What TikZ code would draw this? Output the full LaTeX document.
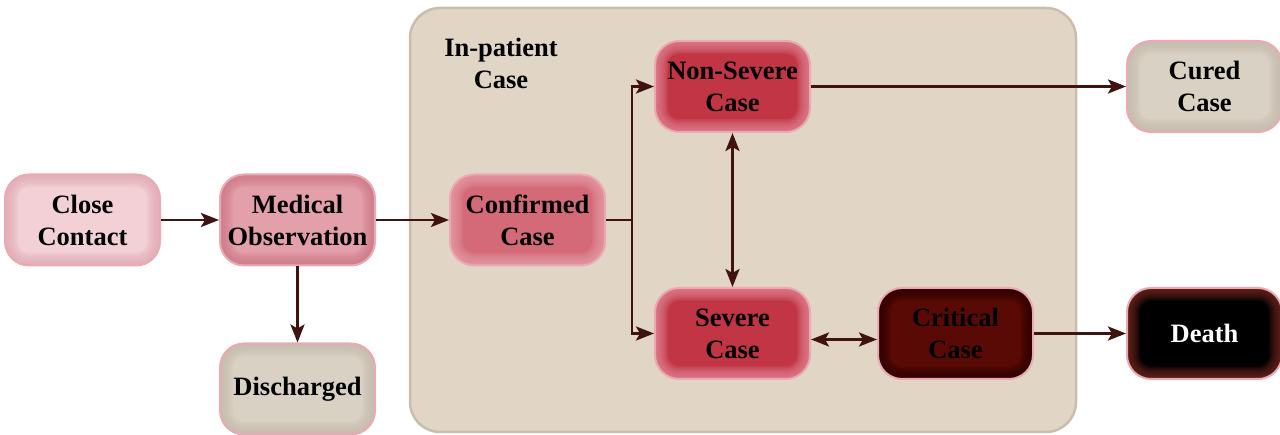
\documentclass[tikz,border=0pt]{standalone}
\usepackage{fontspec}
\setmainfont{Liberation Serif}
\usetikzlibrary{positioning}
\usetikzlibrary{calc}
\usetikzlibrary{arrows.meta}
\definecolor{arrowbrown}{HTML}{3F1410}
\definecolor{edgepink}{HTML}{EBA9B3}
\definecolor{wardfill}{HTML}{E1D6C6}
\definecolor{warddraw}{HTML}{C9BDAC}
\definecolor{contactfill}{HTML}{F2D0D6}
\definecolor{contactglow}{HTML}{E2AAB4}
\definecolor{obsfill}{HTML}{E4A0AA}
\definecolor{obsglow}{HTML}{CD7886}
\definecolor{greyfill}{HTML}{D9D1C4}
\definecolor{greyglow}{HTML}{C6BBAC}
\definecolor{confirmfill}{HTML}{D46A78}
\definecolor{confirmglow}{HTML}{E9A1AB}
\definecolor{casefill}{HTML}{C13545}
\definecolor{caseglow}{HTML}{E58A98}
\definecolor{critfill}{HTML}{5A0A04}
\definecolor{critglow}{HTML}{2A0200}
\definecolor{deathglow}{HTML}{7A2A22}
\tikzset{
  box/.style       = { rectangle, minimum width=155pt, minimum height=91pt, rounded corners=24pt,
                       align=center, inner sep=0pt, font=\fontsize{26.5}{32}\selectfont\bfseries },
  border/.style    = { draw=edgepink, line width=2pt },
  glow/.style      = { path picture={
                         \foreach \w in {2,4,...,26}
                           \draw [#1, line width=\w pt, opacity=0.11, rounded corners=24pt]
                             (path picture bounding box.south west) rectangle (path picture bounding box.north east);
                       } },
}
\tikzset{
  contact/.style   = { box, border, fill=contactfill, glow=contactglow },
  observed/.style  = { box, border, fill=obsfill, glow=obsglow },
  released/.style  = { box, border, fill=greyfill, glow=greyglow },
  confirmed/.style = { box, border, fill=confirmfill, glow=confirmglow },
  illness/.style   = { box, border, fill=casefill, glow=caseglow },
  grave/.style     = { box, border, fill=critfill, glow=critglow },
  fatal/.style     = { box, border, fill=black, glow=deathglow, text=white },
  ward/.style      = { rectangle, minimum width=666pt, minimum height=424pt, rounded corners=30pt,
                       fill=wardfill, draw=warddraw, line width=2.5pt },
  wardlabel/.style = { align=center, font=\fontsize{26.5}{32}\selectfont\bfseries }
}

\begin{document}
\begin{tikzpicture}[
  ,>={Stealth[length=18pt,width=14pt,inset=4pt]},line width=2.8pt,arrowbrown,text=black
]
  \useasboundingbox (0,0) rectangle (1280pt,435pt);

  \node (ward)      [ward] at (743pt,215pt)                {};
  \node (wardtitle) [wardlabel] at (501pt,372pt)           {In-patient\\Case};

  \node (close)     [contact] at (82.5pt,215pt)            {Close\\Contact};
  \node (medobs)    [observed,right=58pt of close]         {Medical\\Observation};
  \node (disch)     [released,below=76pt of medobs]        {Discharged};
  \node (confirm)   [confirmed,right=73pt of medobs]       {Confirmed\\Case};

  \node (nonsevere) [illness] at (732.5pt,348.5pt)         {Non-Severe\\Case};
  \node (severe)    [illness,below=154pt of nonsevere]     {Severe\\Case};
  \node (critical)  [grave,right=66pt of severe]           {Critical\\Case};
  \node (death)     [fatal,right=92pt of critical]         {Death};
  \node (cured)     [released,above=154pt of death]        {Cured\\Case};

  \coordinate (split) at ($(confirm.east)+(26pt,0)$);

  \draw [->]  (close)     -- (medobs);
  \draw [->]  (medobs)    -- (confirm);
  \draw [->]  (medobs)    -- (disch);
  \draw       (confirm)   -- (split);
  \draw [->]  (split)     |- (nonsevere);
  \draw [->]  (split)     |- (severe);
  \draw [<->] (nonsevere) -- (severe);
  \draw [<->] ([yshift=-6pt]severe.east) -- ([yshift=-6pt]critical.west);
  \draw [->]  (critical)  -- (death);
  \draw [->]  (nonsevere) -- (cured);

\end{tikzpicture}
\end{document}
